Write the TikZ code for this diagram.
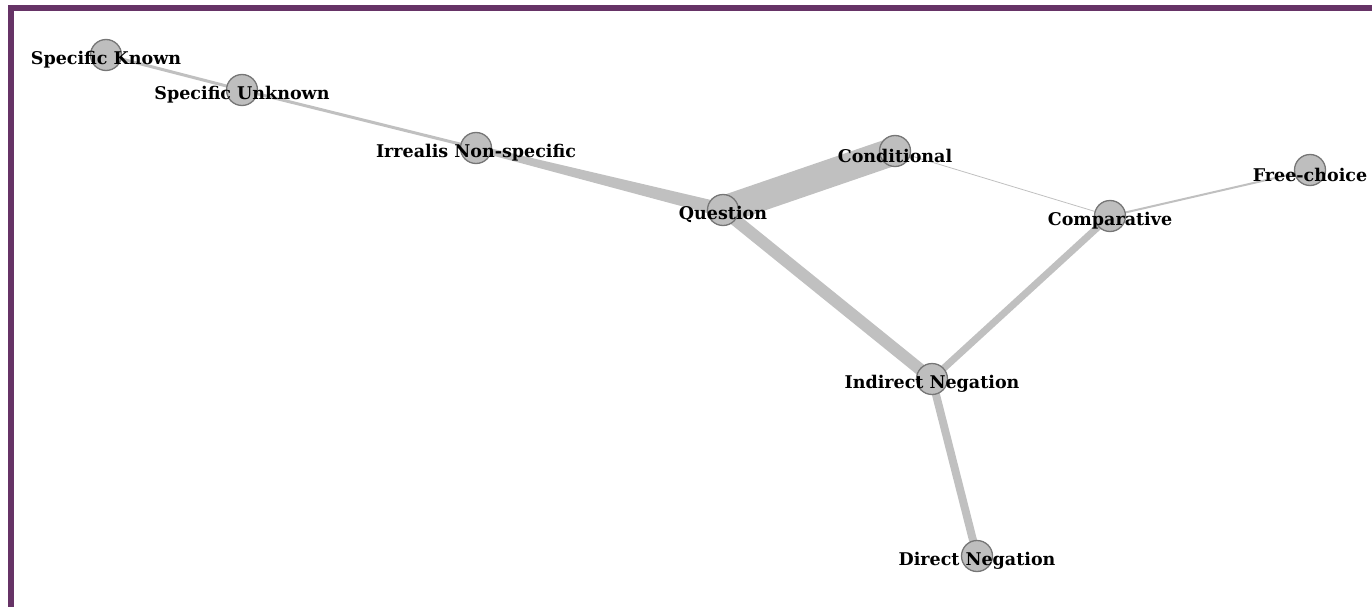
\documentclass[tikz,border=0pt]{standalone}
\usepackage{fontspec}
\setmainfont{DejaVu Serif}
\usetikzlibrary{calc,backgrounds}
\definecolor{frame}{RGB}{102,51,102}
\definecolor{edgec}{RGB}{192,192,192}
\definecolor{dotc}{RGB}{190,190,190}
\definecolor{rimc}{RGB}{118,118,118}

\begin{document}
\begin{tikzpicture}[x=1pt, y=-1pt,
    dot/.style={circle, fill=dotc, draw=rimc, line width=1.3pt,
                minimum size=31pt, inner sep=0pt},
    lbl/.style={font=\fontsize{17.5}{20}\selectfont\bfseries, text=black,
                inner sep=0pt, yshift=-4.5pt},
    link/.style={draw=edgec, line cap=butt}]
\useasboundingbox (0,0) rectangle (1372,607);
% frame on the left and top
\draw[frame, line width=6pt] (11,607) -- (11,8) -- (1372,8);

\node[dot, label={[lbl]center:Specific Known}] (sk) at (106,55) {};
\node[dot, label={[lbl]center:Specific Unknown}] (su) at (242,90) {};
\node[dot, label={[lbl]center:Irrealis Non-specific}] (irr) at (476,148) {};
\node[dot, label={[lbl]center:Question}] (q) at (723,210) {};
\node[dot, label={[lbl]center:Conditional}] (cond) at (895,151) {};
\node[dot, label={[lbl]center:Comparative}] (comp) at (1110,216) {};
\node[dot, label={[lbl]center:Free-choice}] (free) at (1310,170) {};
\node[dot, label={[lbl]center:Indirect Negation}] (ind) at (932,379) {};
\node[dot, label={[lbl]center:Direct Negation}] (dir) at (977,556) {};

\begin{scope}[on background layer]
\draw[link, line width=3pt] (sk.center) -- (su.center);
\draw[link, line width=3pt] (su.center) -- (irr.center);
\fill[edgec] ($(irr.center)!3pt!90:(q.center)$) -- ($(irr.center)!3pt!-90:(q.center)$)
   -- ($(q.center)!7pt!90:(irr.center)$) -- ($(q.center)!7pt!-90:(irr.center)$) -- cycle;
\draw[link, line width=28pt] (q.center) -- (cond.center);
\draw[link, line width=12pt] (q.center) -- (ind.center);
\draw[link, line width=0.8pt] (cond.center) -- (comp.center);
\draw[link, line width=2pt] (comp.center) -- (free.center);
\draw[link, line width=7pt] (comp.center) -- (ind.center);
\draw[link, line width=8pt] (ind.center) -- (dir.center);
\end{scope}
\end{tikzpicture}
\end{document}
